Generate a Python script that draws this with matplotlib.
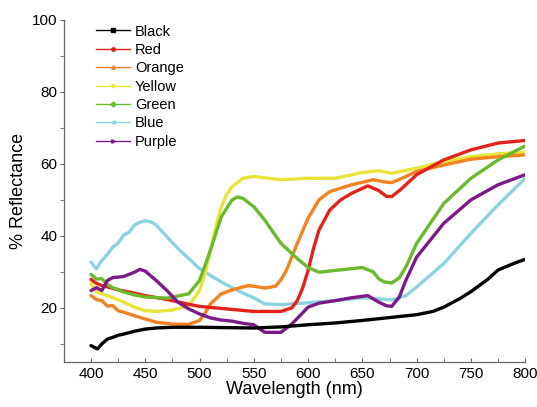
import numpy as np
import matplotlib.pyplot as plt
from matplotlib.lines import Line2D
from matplotlib.ticker import MultipleLocator

plt.rcParams['font.family'] = ['Liberation Sans', 'DejaVu Sans']

# Reflectance spectra (wavelength nm, % reflectance)
black_wl = [400, 403, 406, 410, 415, 420, 425, 430, 440, 450, 460, 475, 500, 525, 550, 575, 600, 625, 650, 675, 700, 715, 725, 740, 750, 765, 775, 790, 800]
black_r = [9.5, 9.0, 8.6, 10.0, 11.3, 11.8, 12.4, 12.7, 13.5, 14.1, 14.4, 14.6, 14.6, 14.5, 14.4, 14.7, 15.3, 15.8, 16.5, 17.3, 18.1, 19.0, 20.2, 22.6, 24.5, 27.8, 30.5, 32.4, 33.5]

red_wl = [400, 405, 410, 418, 425, 435, 450, 465, 475, 490, 500, 525, 550, 575, 585, 590, 595, 600, 605, 610, 620, 630, 640, 655, 665, 672, 677, 685, 700, 725, 750, 775, 800]
red_r = [27.9, 26.8, 26.2, 25.6, 25.0, 24.4, 23.4, 22.6, 22.0, 21.0, 20.4, 19.7, 19.0, 19.0, 20.0, 22.0, 25.5, 30.4, 36.5, 41.6, 47.2, 50.0, 51.8, 53.9, 52.6, 51.0, 50.9, 52.8, 57.0, 61.1, 63.9, 65.8, 66.5]

orange_wl = [400, 405, 410, 415, 420, 425, 430, 440, 450, 460, 475, 490, 500, 505, 510, 520, 530, 545, 550, 560, 570, 575, 580, 590, 600, 610, 620, 640, 660, 670, 677, 685, 700, 725, 750, 775, 800]
orange_r = [23.4, 22.3, 22.0, 20.5, 20.6, 19.2, 18.8, 17.8, 16.9, 16.0, 15.5, 15.4, 16.5, 18.5, 21.1, 23.9, 25.0, 26.2, 26.0, 25.5, 26.0, 27.8, 30.4, 37.9, 44.9, 50.0, 52.3, 54.2, 55.6, 55.0, 54.8, 55.8, 57.9, 59.7, 61.3, 62.0, 62.5]

yellow_wl = [400, 405, 410, 420, 430, 440, 450, 460, 475, 490, 500, 505, 510, 515, 520, 525, 530, 540, 550, 575, 600, 625, 650, 665, 677, 700, 725, 750, 775, 800]
yellow_r = [26.7, 24.5, 23.9, 22.8, 21.6, 20.2, 19.2, 19.0, 19.4, 20.6, 24.8, 29.5, 36.0, 42.5, 48.0, 51.5, 53.7, 56.0, 56.5, 55.6, 56.0, 56.0, 57.6, 58.1, 57.4, 58.8, 60.7, 62.0, 62.8, 63.2]

green_wl = [400, 405, 410, 415, 420, 430, 440, 450, 470, 490, 500, 510, 520, 530, 535, 540, 550, 560, 575, 590, 600, 610, 625, 650, 660, 665, 670, 677, 684, 690, 700, 725, 750, 775, 800]
green_r = [29.3, 28.0, 28.1, 26.5, 25.6, 24.4, 23.6, 23.0, 22.7, 23.9, 27.6, 36.0, 45.3, 50.0, 50.8, 50.4, 48.1, 44.4, 37.9, 33.7, 31.2, 29.9, 30.4, 31.2, 30.0, 28.1, 27.2, 26.9, 28.3, 31.3, 37.9, 49.0, 56.0, 61.1, 65.0]

blue_wl = [400, 403, 405, 410, 415, 420, 425, 430, 435, 440, 445, 450, 455, 460, 470, 480, 490, 500, 510, 520, 530, 540, 550, 560, 575, 600, 625, 650, 665, 677, 690, 700, 725, 750, 775, 800]
blue_r = [32.7, 31.5, 30.9, 33.2, 34.8, 36.9, 38.0, 40.2, 41.0, 43.0, 43.8, 44.2, 43.9, 43.0, 39.7, 36.5, 33.7, 30.9, 29.0, 27.2, 25.6, 24.1, 22.8, 21.1, 20.9, 21.4, 22.0, 22.8, 22.5, 22.2, 23.4, 25.8, 32.3, 40.7, 48.6, 56.0]

purple_wl = [400, 405, 410, 415, 420, 430, 440, 445, 450, 460, 470, 480, 490, 500, 510, 520, 530, 540, 550, 560, 575, 585, 600, 610, 625, 640, 655, 665, 672, 677, 684, 690, 700, 725, 750, 775, 800]
purple_r = [24.8, 25.6, 24.8, 27.6, 28.4, 28.7, 29.9, 30.7, 30.2, 27.6, 24.8, 21.6, 19.7, 18.3, 17.2, 16.6, 16.3, 15.7, 15.3, 13.2, 13.2, 15.5, 20.2, 21.3, 22.0, 22.8, 23.4, 21.6, 20.6, 20.4, 23.0, 27.6, 34.1, 43.5, 50.0, 54.2, 57.0]

names = ['Black', 'Red', 'Orange', 'Yellow', 'Green', 'Blue', 'Purple']
colours = ['#000000', '#e2231a', '#f58220', '#e8e53a', '#6bb92d', '#8dd3df', '#7a1b88']
markers = ['s', 'o', '^', 'v', 'D', '<', '>']

series = [(black_wl, black_r), (red_wl, red_r), (orange_wl, orange_r), (yellow_wl, yellow_r),
          (green_wl, green_r), (blue_wl, blue_r), (purple_wl, purple_r)]

fig = plt.figure(figsize=(5.37, 4.07), dpi=100)
ax = fig.add_axes([0.119, 0.111, 0.859, 0.840])

# draw in an order that keeps the same overlaps as the reference
order = [5, 3, 2, 1, 4, 6, 0]
for i in order:
    wl, r = series[i]
    ax.plot(wl, r, color=colours[i], lw=2.4, solid_capstyle='round', solid_joinstyle='round')

ax.set_xlim(375, 800)
ax.set_ylim(5, 100)
ax.xaxis.set_major_locator(MultipleLocator(50))
ax.xaxis.set_minor_locator(MultipleLocator(25))
ax.yaxis.set_major_locator(MultipleLocator(20))
ax.yaxis.set_minor_locator(MultipleLocator(10))

for side in ['top', 'right']:
    ax.spines[side].set_visible(False)
for side in ['left', 'bottom']:
    ax.spines[side].set_color('#666666')
    ax.spines[side].set_linewidth(0.9)

ax.tick_params(axis='x', which='both', direction='in', length=3, color='#666666', labelsize=11, pad=4)
ax.tick_params(axis='y', which='both', direction='out', length=3, color='#666666', labelsize=11, pad=1.5)

ax.set_xlabel('Wavelength (nm)', fontsize=13, labelpad=0)
ax.set_ylabel('% Reflectance', fontsize=13, labelpad=4)

handles = [Line2D([0], [0], color=c, lw=1.0, marker=m, markersize=2.5) for c, m in zip(colours, markers)]
ax.legend(handles, names, loc='upper left', bbox_to_anchor=(0.042, 1.025), frameon=False,
          fontsize=10.5, handlelength=2.3, handletextpad=0.35, labelspacing=0.3)

fig.savefig('out.png', dpi=100)
